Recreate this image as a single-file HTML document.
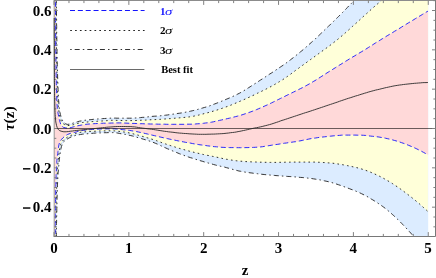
<!DOCTYPE html>
<html><head><meta charset="utf-8">
<style>
html,body{margin:0;padding:0;background:#fff;}
svg{display:block;will-change:transform;}
text{font-family:"Liberation Serif",serif;font-weight:bold;fill:#000;}
</style></head>
<body>
<svg width="436" height="278" viewBox="0 0 436 278">
<rect width="436" height="278" fill="#fff"/>
<defs><clipPath id="c"><rect x="54" y="0" width="381.5" height="236.8"/></clipPath></defs>
<g clip-path="url(#c)">
<polygon points="54.0,-6.0 56.3,-6.0 56.3,-4.2 56.3,-2.4 56.3,-0.6 56.4,1.2 56.4,3.0 56.4,4.8 56.4,6.6 56.4,8.4 56.5,10.2 56.5,12.0 56.5,13.8 56.5,15.6 56.5,17.4 56.6,19.2 56.6,21.0 56.6,22.8 56.6,24.6 56.7,26.4 56.7,28.2 56.7,30.0 56.7,31.8 56.7,33.6 56.8,35.4 56.8,37.2 56.8,39.0 56.9,40.8 56.9,42.6 56.9,44.4 56.9,46.2 57.0,48.0 57.0,49.8 57.0,51.6 57.1,53.4 57.1,55.2 57.1,57.0 57.2,58.8 57.2,60.6 57.3,62.4 57.3,64.2 57.3,66.0 57.4,67.8 57.4,69.6 57.5,71.4 57.5,73.2 57.6,75.0 57.6,76.8 57.7,78.6 57.7,80.4 57.8,82.2 57.9,84.0 57.9,85.8 58.0,87.6 58.1,89.4 58.2,91.2 58.2,93.0 58.3,94.8 58.4,96.6 58.5,98.4 58.6,100.2 58.8,102.0 58.9,103.8 59.1,105.6 59.2,107.4 59.4,109.1 59.7,110.9 60.0,112.7 60.4,114.5 60.9,116.2 61.4,117.9 62.1,119.7 63.0,121.3 64.0,122.6 65.6,123.8 67.2,124.4 69.0,124.2 70.7,123.7 72.5,123.3 74.2,122.8 76.0,122.2 77.7,121.7 79.4,121.2 81.2,120.9 83.0,120.6 84.7,120.3 86.5,120.1 88.3,119.9 90.1,119.7 91.9,119.5 93.7,119.3 95.5,119.2 97.3,119.0 99.1,118.9 100.9,118.8 102.7,118.6 104.5,118.5 106.3,118.4 108.1,118.3 109.9,118.2 111.7,118.1 113.5,118.1 115.3,118.1 117.1,118.2 118.9,118.2 120.7,118.2 122.5,118.2 124.3,118.2 126.1,118.2 127.9,118.2 129.7,118.2 131.5,118.2 133.3,118.1 135.1,118.0 136.9,117.9 138.6,117.8 140.4,117.6 142.2,117.4 144.0,117.3 145.8,117.1 147.6,116.9 149.4,116.7 151.2,116.5 153.0,116.3 154.8,116.2 156.6,116.1 158.4,115.9 160.2,115.8 162.0,115.6 163.7,115.4 165.5,115.2 167.3,115.0 169.1,114.7 170.9,114.5 172.7,114.2 174.4,114.0 176.2,113.7 178.0,113.4 179.8,113.2 181.6,112.9 183.3,112.6 185.1,112.3 186.9,111.9 188.7,111.6 190.4,111.2 192.2,110.8 193.9,110.4 195.7,110.0 197.4,109.5 199.1,109.0 200.9,108.5 202.6,108.0 204.3,107.5 206.1,107.0 207.8,106.4 209.5,105.9 211.2,105.3 212.9,104.6 214.5,104.0 216.2,103.4 217.9,102.7 219.6,102.0 221.2,101.4 222.9,100.7 224.6,100.0 226.2,99.3 227.9,98.6 229.6,97.9 231.2,97.2 232.9,96.4 234.5,95.7 236.1,94.9 237.7,94.1 239.3,93.3 240.9,92.4 242.5,91.6 244.0,90.6 245.5,89.7 247.1,88.7 248.6,87.7 250.1,86.8 251.6,85.8 253.1,84.8 254.7,83.8 256.2,82.9 257.7,81.9 259.2,80.9 260.7,79.9 262.2,79.0 263.7,78.0 265.2,77.0 266.7,76.0 268.2,75.0 269.8,74.0 271.3,73.1 272.8,72.1 274.3,71.1 275.8,70.1 277.3,69.1 278.8,68.1 280.3,67.1 281.8,66.1 283.3,65.1 284.7,64.0 286.2,63.0 287.6,61.9 289.1,60.8 290.5,59.8 291.9,58.7 293.4,57.6 294.8,56.4 296.2,55.3 297.6,54.2 299.0,53.1 300.4,51.9 301.8,50.8 303.2,49.6 304.5,48.5 305.9,47.3 307.2,46.1 308.6,44.9 309.9,43.7 311.3,42.5 312.6,41.3 313.9,40.1 315.3,38.9 316.6,37.6 317.9,36.4 319.2,35.2 320.5,33.9 321.8,32.7 323.1,31.4 324.4,30.2 325.7,28.9 327.0,27.7 328.3,26.5 329.6,25.2 330.9,23.9 332.2,22.7 333.5,21.4 334.8,20.2 336.0,18.9 337.3,17.7 338.6,16.4 339.9,15.1 341.2,13.8 342.4,12.6 343.7,11.3 345.0,10.0 346.2,8.7 347.5,7.4 348.7,6.1 350.0,4.8 351.2,3.6 352.5,2.3 353.7,1.0 355.0,-0.3 356.2,-1.6 357.5,-2.9 358.7,-4.2 360.0,-5.5 428.2,-5.5 428.2,241.5 418.0,241.5 416.8,240.1 415.6,238.6 414.4,237.2 413.2,235.8 411.9,234.4 410.7,233.0 409.4,231.6 408.2,230.2 406.9,228.9 405.6,227.5 404.3,226.1 403.0,224.8 401.7,223.4 400.4,222.1 399.1,220.8 397.8,219.5 396.4,218.2 395.1,216.9 393.7,215.6 392.3,214.4 390.9,213.1 389.5,211.9 388.1,210.7 386.6,209.5 385.2,208.3 383.7,207.2 382.2,206.1 380.6,205.0 379.1,204.0 377.5,202.9 376.0,201.9 374.4,200.9 372.8,199.9 371.2,199.0 369.6,198.0 368.0,197.0 366.3,196.1 364.7,195.3 363.0,194.4 361.4,193.6 359.7,192.8 358.0,192.1 356.2,191.3 354.5,190.6 352.8,189.9 351.0,189.3 349.3,188.6 347.5,188.0 345.7,187.3 344.0,186.7 342.2,186.0 340.5,185.4 338.7,184.8 336.9,184.2 335.1,183.6 333.4,183.1 331.6,182.5 329.8,182.1 328.0,181.6 326.1,181.2 324.3,180.8 322.5,180.4 320.6,180.0 318.8,179.7 317.0,179.4 315.1,179.1 313.3,178.8 311.4,178.5 309.6,178.3 307.7,178.1 305.8,177.9 304.0,177.7 302.1,177.5 300.3,177.4 298.4,177.2 296.5,177.0 294.7,176.9 292.8,176.7 290.9,176.6 289.1,176.5 287.2,176.4 285.3,176.2 283.5,176.1 281.6,176.0 279.7,175.9 277.9,175.7 276.0,175.6 274.2,175.4 272.3,175.3 270.4,175.1 268.6,174.9 266.7,174.8 264.9,174.6 263.0,174.4 261.1,174.2 259.3,174.0 257.4,173.7 255.6,173.5 253.7,173.3 251.9,173.0 250.0,172.8 248.1,172.5 246.3,172.3 244.4,172.0 242.6,171.7 240.8,171.3 238.9,171.0 237.1,170.5 235.3,170.1 233.5,169.6 231.7,169.1 229.9,168.6 228.1,168.1 226.3,167.6 224.5,167.1 222.7,166.7 220.8,166.3 219.0,165.9 217.2,165.5 215.4,165.0 213.6,164.5 211.8,164.0 210.0,163.5 208.2,163.0 206.4,162.5 204.6,162.0 202.8,161.4 201.0,160.9 199.2,160.4 197.4,159.8 195.6,159.3 193.8,158.7 192.1,158.1 190.3,157.6 188.5,157.0 186.7,156.4 185.0,155.8 183.2,155.1 181.5,154.5 179.7,153.8 178.0,153.1 176.3,152.4 174.5,151.7 172.8,151.0 171.1,150.2 169.4,149.5 167.6,148.8 165.9,148.0 164.2,147.3 162.5,146.5 160.8,145.7 159.1,144.9 157.4,144.1 155.7,143.4 154.0,142.7 152.2,142.0 150.5,141.4 148.7,140.8 146.9,140.2 145.1,139.7 143.3,139.2 141.5,138.6 139.8,138.1 138.0,137.6 136.2,137.1 134.4,136.5 132.6,136.0 130.8,135.6 128.9,135.2 127.1,134.8 125.3,134.4 123.4,134.1 121.6,133.8 119.7,133.5 117.9,133.1 116.0,132.8 114.2,132.6 112.3,132.6 110.5,132.6 108.6,132.6 106.7,132.7 104.9,132.7 103.0,132.8 101.1,132.9 99.2,132.9 97.4,133.0 95.5,133.1 93.6,133.2 91.8,133.4 89.9,133.5 88.0,133.7 86.2,133.8 84.3,134.0 82.5,134.2 80.6,134.5 78.7,134.8 76.9,135.2 75.1,135.6 73.3,136.1 71.6,136.8 69.8,137.6 68.2,138.5 66.6,139.5 65.0,140.6 63.6,141.9 62.6,143.3 62.0,144.9 61.4,146.7 61.0,148.6 60.7,150.5 60.3,152.4 60.0,154.3 59.8,156.1 59.5,158.0 59.3,159.8 59.1,161.7 58.9,163.6 58.8,165.4 58.6,167.3 58.4,169.1 58.3,171.0 58.1,172.9 58.0,174.7 57.9,176.6 57.8,178.5 57.7,180.3 57.6,182.2 57.5,184.1 57.5,185.9 57.4,187.8 57.3,189.7 57.3,191.5 57.2,193.4 57.2,195.3 57.1,197.1 57.0,199.0 57.0,200.9 57.0,202.8 56.9,204.6 56.9,206.5 56.8,208.4 56.8,210.2 56.8,212.1 56.7,214.0 56.7,215.8 56.6,217.7 56.6,219.6 56.6,221.4 56.5,223.3 56.5,225.2 56.5,227.0 56.5,228.9 56.4,230.8 56.4,232.7 56.4,234.5 56.4,236.4 56.3,238.3 56.3,240.1 56.3,242.0 54.0,242.0" fill="#dcecff"/>
<polygon points="54.0,-6.0 55.9,-6.0 55.9,-4.1 55.9,-2.2 55.9,-0.3 55.9,1.6 56.0,3.5 56.0,5.5 56.0,7.4 56.0,9.3 56.0,11.2 56.0,13.1 56.1,15.0 56.1,16.9 56.1,18.8 56.1,20.7 56.1,22.6 56.1,24.5 56.2,26.4 56.2,28.4 56.2,30.3 56.2,32.2 56.2,34.1 56.3,36.0 56.3,37.9 56.3,39.8 56.3,41.7 56.4,43.6 56.4,45.5 56.4,47.4 56.4,49.3 56.5,51.3 56.5,53.2 56.5,55.1 56.5,57.0 56.6,58.9 56.6,60.8 56.6,62.7 56.7,64.6 56.7,66.5 56.8,68.4 56.8,70.3 56.9,72.2 56.9,74.2 57.0,76.1 57.0,78.0 57.1,79.9 57.1,81.8 57.2,83.7 57.2,85.6 57.3,87.5 57.4,89.4 57.5,91.3 57.5,93.2 57.6,95.1 57.7,97.1 57.8,99.0 57.9,100.9 58.1,102.8 58.2,104.7 58.4,106.6 58.5,108.5 58.8,110.4 59.0,112.3 59.3,114.2 59.7,116.1 60.2,117.9 60.7,119.8 61.6,121.6 62.6,123.1 64.0,124.3 65.8,125.2 67.7,125.6 69.5,125.4 71.5,125.1 73.3,124.7 75.2,124.2 77.0,123.6 78.9,123.1 80.7,122.8 82.6,122.5 84.5,122.3 86.4,122.1 88.3,121.9 90.2,121.8 92.1,121.6 94.0,121.5 95.9,121.4 97.8,121.2 99.7,121.1 101.6,121.0 103.5,120.9 105.5,120.8 107.4,120.6 109.3,120.5 111.2,120.3 113.1,120.3 115.0,120.3 116.9,120.4 118.8,120.5 120.7,120.5 122.6,120.5 124.5,120.6 126.4,120.6 128.3,120.6 130.2,120.6 132.2,120.6 134.1,120.5 136.0,120.5 137.9,120.4 139.8,120.3 141.7,120.2 143.6,120.2 145.5,120.1 147.4,120.0 149.3,119.9 151.2,119.7 153.1,119.6 155.0,119.6 156.9,119.5 158.8,119.4 160.8,119.3 162.7,119.1 164.6,119.0 166.5,118.9 168.4,118.7 170.3,118.6 172.2,118.4 174.1,118.3 176.0,118.1 177.9,118.0 179.8,117.8 181.7,117.7 183.6,117.5 185.5,117.3 187.4,117.1 189.3,116.9 191.2,116.6 193.0,116.3 194.9,115.9 196.8,115.5 198.6,115.1 200.5,114.6 202.4,114.1 204.2,113.6 206.0,113.1 207.9,112.7 209.7,112.2 211.6,111.6 213.4,111.1 215.2,110.6 217.1,110.0 218.9,109.4 220.7,108.8 222.5,108.2 224.3,107.6 226.1,106.9 227.9,106.3 229.7,105.6 231.4,104.9 233.2,104.1 235.0,103.4 236.7,102.7 238.5,101.9 240.2,101.2 242.0,100.4 243.7,99.7 245.5,98.9 247.2,98.1 249.0,97.3 250.7,96.5 252.4,95.7 254.2,94.9 255.9,94.1 257.6,93.2 259.3,92.4 261.0,91.6 262.7,90.7 264.5,89.9 266.2,89.0 267.9,88.1 269.6,87.3 271.2,86.4 272.9,85.5 274.6,84.5 276.2,83.6 277.9,82.6 279.5,81.6 281.2,80.6 282.8,79.6 284.4,78.6 285.9,77.5 287.5,76.4 289.0,75.3 290.6,74.2 292.1,73.0 293.7,71.9 295.2,70.7 296.7,69.6 298.3,68.5 299.8,67.3 301.3,66.2 302.9,65.1 304.4,64.0 306.0,62.9 307.5,61.7 309.1,60.6 310.6,59.5 312.2,58.4 313.7,57.3 315.3,56.1 316.8,55.0 318.3,53.9 319.9,52.8 321.4,51.7 323.0,50.5 324.5,49.4 326.1,48.3 327.6,47.2 329.1,46.0 330.7,44.9 332.2,43.7 333.7,42.5 335.2,41.4 336.7,40.2 338.2,39.0 339.6,37.7 341.1,36.5 342.6,35.3 344.0,34.1 345.4,32.8 346.9,31.5 348.3,30.3 349.7,29.0 351.1,27.7 352.5,26.4 353.9,25.1 355.4,23.8 356.8,22.6 358.2,21.3 359.6,20.0 361.0,18.7 362.4,17.4 363.8,16.1 365.2,14.9 366.6,13.6 368.1,12.3 369.5,11.0 370.9,9.7 372.3,8.4 373.7,7.2 375.2,5.9 376.6,4.7 378.1,3.4 379.5,2.2 381.0,1.0 382.4,-0.3 383.8,-1.6 385.2,-2.9 386.6,-4.2 388.0,-5.5 428.2,-5.5 427.9,211.5 426.5,210.2 425.1,208.9 423.7,207.7 422.3,206.4 420.9,205.2 419.5,203.9 418.1,202.7 416.6,201.5 415.2,200.3 413.7,199.1 412.3,198.0 410.8,196.8 409.3,195.6 407.8,194.5 406.3,193.3 404.8,192.2 403.3,191.1 401.8,190.0 400.3,188.9 398.7,187.8 397.2,186.7 395.6,185.7 394.0,184.7 392.5,183.6 390.9,182.6 389.3,181.6 387.6,180.7 386.0,179.7 384.4,178.8 382.7,177.9 381.1,177.0 379.4,176.2 377.7,175.4 376.0,174.6 374.3,173.8 372.5,173.0 370.8,172.3 369.1,171.6 367.3,170.9 365.5,170.3 363.7,169.7 362.0,169.1 360.2,168.6 358.4,168.1 356.5,167.6 354.7,167.2 352.9,166.8 351.0,166.3 349.2,166.0 347.3,165.6 345.5,165.3 343.6,164.9 341.8,164.6 339.9,164.3 338.1,164.0 336.2,163.7 334.3,163.4 332.5,163.2 330.6,163.0 328.7,162.9 326.9,162.7 325.0,162.6 323.1,162.5 321.2,162.4 319.4,162.3 317.5,162.2 315.6,162.1 313.7,162.1 311.8,162.1 310.0,162.1 308.1,162.1 306.2,162.1 304.3,162.1 302.4,162.1 300.6,162.1 298.7,162.1 296.8,162.1 294.9,162.1 293.0,162.1 291.2,162.1 289.3,162.2 287.4,162.2 285.5,162.2 283.6,162.3 281.8,162.3 279.9,162.3 278.0,162.4 276.1,162.4 274.2,162.4 272.4,162.4 270.5,162.4 268.6,162.4 266.7,162.3 264.8,162.3 263.0,162.3 261.1,162.2 259.2,162.2 257.3,162.1 255.4,162.0 253.6,162.0 251.7,161.9 249.8,161.8 247.9,161.7 246.0,161.6 244.2,161.5 242.3,161.3 240.4,161.2 238.6,161.0 236.7,160.8 234.8,160.6 233.0,160.3 231.1,160.0 229.2,159.7 227.4,159.4 225.5,159.1 223.7,158.7 221.8,158.3 220.0,157.9 218.2,157.5 216.3,157.1 214.5,156.7 212.7,156.4 210.8,156.0 209.0,155.6 207.1,155.3 205.3,154.9 203.4,154.5 201.6,154.1 199.8,153.7 197.9,153.2 196.1,152.8 194.3,152.4 192.5,151.9 190.6,151.5 188.8,151.0 187.0,150.5 185.2,150.0 183.4,149.5 181.6,149.0 179.8,148.5 177.9,147.9 176.1,147.4 174.4,146.8 172.6,146.3 170.8,145.7 169.0,145.1 167.2,144.5 165.4,143.9 163.6,143.3 161.9,142.7 160.1,142.0 158.3,141.4 156.6,140.7 154.8,140.1 153.0,139.5 151.2,139.0 149.4,138.4 147.6,137.9 145.8,137.3 144.0,136.8 142.2,136.3 140.4,135.8 138.6,135.3 136.8,134.8 134.9,134.3 133.1,133.8 131.3,133.4 129.5,133.0 127.6,132.6 125.8,132.3 123.9,132.0 122.0,131.8 120.2,131.5 118.3,131.3 116.4,131.0 114.6,130.9 112.7,130.8 110.8,130.8 108.9,130.8 107.1,130.9 105.2,130.9 103.3,130.9 101.4,131.0 99.5,131.0 97.7,131.1 95.8,131.2 93.9,131.3 92.0,131.4 90.1,131.5 88.3,131.6 86.4,131.7 84.5,131.9 82.6,132.1 80.8,132.3 78.9,132.6 77.1,133.1 75.3,133.7 73.5,134.4 71.8,135.1 70.1,135.8 68.3,136.6 66.7,137.6 65.1,138.6 63.7,139.8 62.3,141.2 61.2,142.8 60.6,144.4 60.2,146.2 59.8,148.0 59.5,150.0 59.2,151.9 58.9,153.7 58.7,155.6 58.5,157.5 58.3,159.3 58.1,161.2 57.9,163.1 57.8,164.9 57.6,166.8 57.5,168.7 57.4,170.6 57.3,172.5 57.2,174.3 57.1,176.2 57.0,178.1 56.9,180.0 56.8,181.8 56.8,183.7 56.7,185.6 56.6,187.5 56.6,189.4 56.5,191.2 56.5,193.1 56.4,195.0 56.4,196.9 56.3,198.8 56.3,200.6 56.2,202.5 56.2,204.4 56.2,206.3 56.1,208.2 56.1,210.0 56.1,211.9 56.0,213.8 56.0,215.7 56.0,217.6 55.9,219.4 55.9,221.3 55.9,223.2 55.9,225.1 55.8,227.0 55.8,228.8 55.8,230.7 55.8,232.6 55.8,234.5 55.7,236.4 55.7,238.2 55.7,240.1 55.7,242.0 54.0,242.0" fill="#ffffd9"/>
<polygon points="54.0,-6.0 55.4,-6.0 55.4,-4.0 55.4,-1.9 55.4,0.1 55.4,2.2 55.4,4.2 55.5,6.2 55.5,8.3 55.5,10.3 55.5,12.4 55.5,14.4 55.5,16.4 55.5,18.5 55.5,20.5 55.5,22.5 55.6,24.6 55.6,26.6 55.6,28.7 55.6,30.7 55.6,32.7 55.6,34.8 55.7,36.8 55.7,38.9 55.7,40.9 55.7,42.9 55.7,45.0 55.7,47.0 55.8,49.1 55.8,51.1 55.8,53.1 55.8,55.2 55.9,57.2 55.9,59.2 55.9,61.3 55.9,63.3 56.0,65.4 56.0,67.4 56.0,69.4 56.1,71.5 56.1,73.5 56.2,75.6 56.2,77.6 56.2,79.6 56.3,81.7 56.3,83.7 56.4,85.8 56.4,87.8 56.5,89.8 56.6,91.9 56.6,93.9 56.7,95.9 56.8,98.0 56.8,100.0 56.9,102.1 57.0,104.1 57.2,106.1 57.3,108.2 57.5,110.2 57.9,112.2 58.2,114.2 58.7,116.2 59.1,118.2 59.5,120.3 60.1,122.3 60.7,124.2 61.7,125.9 63.3,127.3 65.2,127.8 67.2,128.1 69.3,128.0 71.3,127.5 73.2,126.9 75.2,126.4 77.2,125.9 79.2,125.5 81.2,125.1 83.2,124.7 85.2,124.4 87.2,124.2 89.3,124.0 91.3,123.8 93.3,123.7 95.4,123.6 97.4,123.5 99.4,123.4 101.5,123.3 103.5,123.2 105.6,123.2 107.6,123.1 109.6,123.1 111.7,123.0 113.7,123.0 115.7,122.9 117.8,122.9 119.8,122.9 121.9,122.9 123.9,123.0 125.9,123.1 128.0,123.2 130.0,123.3 132.0,123.4 134.1,123.4 136.1,123.5 138.2,123.6 140.2,123.7 142.2,123.7 144.3,123.8 146.3,123.8 148.4,123.9 150.4,124.0 152.4,124.0 154.5,124.1 156.5,124.1 158.5,124.2 160.6,124.2 162.6,124.2 164.7,124.2 166.7,124.3 168.7,124.3 170.8,124.3 172.8,124.3 174.9,124.3 176.9,124.3 178.9,124.3 181.0,124.3 183.0,124.3 185.1,124.3 187.1,124.2 189.1,124.2 191.2,124.2 193.2,124.1 195.2,124.0 197.3,123.8 199.3,123.7 201.3,123.5 203.4,123.3 205.4,123.0 207.4,122.8 209.4,122.5 211.4,122.2 213.4,121.8 215.4,121.3 217.4,120.9 219.4,120.4 221.4,120.0 223.4,119.5 225.4,119.1 227.4,118.6 229.4,118.2 231.4,117.7 233.3,117.2 235.3,116.7 237.3,116.2 239.2,115.6 241.2,115.1 243.1,114.5 245.1,113.8 247.0,113.2 248.9,112.5 250.9,111.8 252.8,111.1 254.7,110.3 256.6,109.6 258.4,108.8 260.3,108.0 262.2,107.2 264.1,106.3 265.9,105.5 267.8,104.7 269.6,103.8 271.5,102.9 273.3,102.0 275.1,101.1 276.9,100.2 278.8,99.3 280.6,98.4 282.4,97.5 284.3,96.6 286.1,95.7 287.9,94.8 289.8,93.9 291.6,93.0 293.4,92.1 295.3,91.2 297.1,90.3 298.9,89.4 300.7,88.5 302.5,87.6 304.3,86.6 306.1,85.7 307.9,84.7 309.7,83.7 311.5,82.7 313.2,81.6 315.0,80.6 316.7,79.5 318.4,78.4 320.2,77.3 321.9,76.2 323.6,75.1 325.3,74.0 327.0,72.9 328.8,71.8 330.5,70.7 332.2,69.7 333.9,68.6 335.7,67.5 337.4,66.4 339.1,65.3 340.9,64.3 342.6,63.2 344.3,62.1 346.1,61.0 347.8,60.0 349.5,58.9 351.3,57.8 353.0,56.8 354.8,55.8 356.5,54.7 358.3,53.7 360.0,52.6 361.8,51.6 363.5,50.5 365.3,49.5 367.0,48.4 368.7,47.3 370.5,46.2 372.2,45.1 373.9,44.0 375.6,42.9 377.3,41.8 379.1,40.8 380.8,39.7 382.5,38.6 384.3,37.6 386.0,36.5 387.8,35.4 389.5,34.4 391.2,33.3 393.0,32.3 394.7,31.2 396.5,30.2 398.2,29.1 400.0,28.1 401.7,27.0 403.4,25.9 405.2,24.9 406.9,23.8 408.7,22.7 410.4,21.7 412.2,20.6 413.9,19.6 415.6,18.5 417.4,17.5 419.1,16.4 420.9,15.4 422.6,14.3 424.4,13.3 426.1,12.2 427.9,11.2 428.2,155.0 426.6,154.1 425.0,153.2 423.4,152.3 421.7,151.4 420.1,150.5 418.4,149.7 416.8,148.9 415.1,148.1 413.4,147.4 411.7,146.6 410.0,145.9 408.3,145.2 406.6,144.5 404.9,143.8 403.1,143.2 401.4,142.6 399.6,142.0 397.9,141.4 396.1,140.9 394.3,140.4 392.6,139.9 390.8,139.5 389.0,139.0 387.2,138.6 385.4,138.2 383.5,137.8 381.7,137.5 379.9,137.2 378.1,136.9 376.3,136.7 374.4,136.5 372.6,136.3 370.7,136.1 368.9,135.9 367.1,135.7 365.2,135.4 363.4,135.3 361.5,135.2 359.7,135.2 357.9,135.2 356.0,135.1 354.2,135.1 352.3,135.1 350.5,135.1 348.6,135.1 346.8,135.1 344.9,135.1 343.1,135.1 341.2,135.2 339.4,135.4 337.5,135.5 335.7,135.7 333.9,135.8 332.0,136.0 330.2,136.2 328.3,136.4 326.5,136.6 324.7,136.8 322.8,137.0 321.0,137.2 319.2,137.4 317.3,137.7 315.5,138.0 313.7,138.2 311.8,138.5 310.0,138.8 308.2,139.2 306.4,139.6 304.6,139.9 302.8,140.3 301.0,140.7 299.2,141.0 297.3,141.4 295.5,141.7 293.7,141.9 291.9,142.2 290.0,142.4 288.2,142.7 286.4,143.0 284.5,143.2 282.7,143.5 280.9,143.8 279.1,144.1 277.2,144.4 275.4,144.6 273.6,144.9 271.8,145.2 269.9,145.5 268.1,145.8 266.3,146.1 264.4,146.4 262.6,146.7 260.8,146.9 258.9,147.1 257.1,147.2 255.3,147.3 253.4,147.4 251.6,147.5 249.7,147.5 247.9,147.6 246.0,147.6 244.2,147.7 242.3,147.7 240.5,147.7 238.6,147.7 236.8,147.7 234.9,147.7 233.1,147.6 231.2,147.6 229.4,147.6 227.6,147.5 225.7,147.5 223.9,147.4 222.0,147.3 220.2,147.2 218.3,147.0 216.5,146.8 214.7,146.7 212.8,146.5 211.0,146.2 209.1,146.0 207.3,145.8 205.5,145.5 203.7,145.3 201.8,145.0 200.0,144.8 198.2,144.5 196.3,144.2 194.5,143.9 192.7,143.6 190.9,143.2 189.1,142.9 187.2,142.6 185.4,142.3 183.6,141.9 181.8,141.6 180.0,141.2 178.2,140.9 176.4,140.5 174.5,140.1 172.7,139.8 170.9,139.4 169.1,139.0 167.3,138.6 165.5,138.2 163.7,137.8 161.9,137.4 160.1,137.0 158.3,136.6 156.5,136.2 154.7,135.7 152.9,135.3 151.1,134.9 149.3,134.5 147.5,134.0 145.7,133.6 143.9,133.2 142.1,132.7 140.3,132.4 138.5,132.0 136.7,131.6 134.9,131.3 133.0,131.0 131.2,130.7 129.4,130.4 127.6,130.2 125.7,130.0 123.9,129.8 122.1,129.6 120.2,129.4 118.4,129.2 116.5,129.1 114.7,128.9 112.8,128.9 111.0,128.9 109.1,128.9 107.3,128.9 105.4,128.9 103.6,129.0 101.8,129.0 99.9,129.0 98.1,129.1 96.2,129.2 94.4,129.3 92.5,129.5 90.7,129.6 88.8,129.8 87.0,130.0 85.1,130.1 83.3,130.3 81.5,130.6 79.7,130.9 77.9,131.4 76.2,132.0 74.4,132.5 72.5,132.9 70.7,133.3 69.0,133.9 67.3,134.6 65.7,135.6 64.2,136.7 62.8,138.0 61.6,139.3 60.5,140.8 59.6,142.5 59.1,144.2 58.7,146.0 58.5,147.8 58.3,149.7 58.0,151.6 57.8,153.4 57.5,155.2 57.3,157.1 57.1,158.9 56.9,160.7 56.8,162.6 56.7,164.4 56.6,166.3 56.5,168.1 56.4,170.0 56.3,171.8 56.2,173.6 56.1,175.5 56.1,177.3 56.0,179.2 56.0,181.0 55.9,182.9 55.9,184.7 55.8,186.6 55.8,188.4 55.7,190.3 55.7,192.1 55.7,194.0 55.6,195.8 55.6,197.7 55.6,199.5 55.5,201.4 55.5,203.2 55.5,205.0 55.4,206.9 55.4,208.7 55.4,210.6 55.4,212.4 55.3,214.3 55.3,216.1 55.3,218.0 55.3,219.8 55.3,221.7 55.2,223.5 55.2,225.4 55.2,227.2 55.2,229.1 55.2,230.9 55.2,232.8 55.1,234.6 55.1,236.5 55.1,238.3 55.1,240.2 55.1,242.0 54.0,242.0" fill="#ffd9d9"/>
<g fill="none" stroke-width="0.9">
<polyline points="56.3,-6.0 56.3,-4.2 56.3,-2.4 56.3,-0.6 56.4,1.2 56.4,3.0 56.4,4.8 56.4,6.6 56.4,8.4 56.5,10.2 56.5,12.0 56.5,13.8 56.5,15.6 56.5,17.4 56.6,19.2 56.6,21.0 56.6,22.8 56.6,24.6 56.7,26.4 56.7,28.2 56.7,30.0 56.7,31.8 56.7,33.6 56.8,35.4 56.8,37.2 56.8,39.0 56.9,40.8 56.9,42.6 56.9,44.4 56.9,46.2 57.0,48.0 57.0,49.8 57.0,51.6 57.1,53.4 57.1,55.2 57.1,57.0 57.2,58.8 57.2,60.6 57.3,62.4 57.3,64.2 57.3,66.0 57.4,67.8 57.4,69.6 57.5,71.4 57.5,73.2 57.6,75.0 57.6,76.8 57.7,78.6 57.7,80.4 57.8,82.2 57.9,84.0 57.9,85.8 58.0,87.6 58.1,89.4 58.2,91.2 58.2,93.0 58.3,94.8 58.4,96.6 58.5,98.4 58.6,100.2 58.8,102.0 58.9,103.8 59.1,105.6 59.2,107.4 59.4,109.1 59.7,110.9 60.0,112.7 60.4,114.5 60.9,116.2 61.4,117.9 62.1,119.7 63.0,121.3 64.0,122.6 65.6,123.8 67.2,124.4 69.0,124.2 70.7,123.7 72.5,123.3 74.2,122.8 76.0,122.2 77.7,121.7 79.4,121.2 81.2,120.9 83.0,120.6 84.7,120.3 86.5,120.1 88.3,119.9 90.1,119.7 91.9,119.5 93.7,119.3 95.5,119.2 97.3,119.0 99.1,118.9 100.9,118.8 102.7,118.6 104.5,118.5 106.3,118.4 108.1,118.3 109.9,118.2 111.7,118.1 113.5,118.1 115.3,118.1 117.1,118.2 118.9,118.2 120.7,118.2 122.5,118.2 124.3,118.2 126.1,118.2 127.9,118.2 129.7,118.2 131.5,118.2 133.3,118.1 135.1,118.0 136.9,117.9 138.6,117.8 140.4,117.6 142.2,117.4 144.0,117.3 145.8,117.1 147.6,116.9 149.4,116.7 151.2,116.5 153.0,116.3 154.8,116.2 156.6,116.1 158.4,115.9 160.2,115.8 162.0,115.6 163.7,115.4 165.5,115.2 167.3,115.0 169.1,114.7 170.9,114.5 172.7,114.2 174.4,114.0 176.2,113.7 178.0,113.4 179.8,113.2 181.6,112.9 183.3,112.6 185.1,112.3 186.9,111.9 188.7,111.6 190.4,111.2 192.2,110.8 193.9,110.4 195.7,110.0 197.4,109.5 199.1,109.0 200.9,108.5 202.6,108.0 204.3,107.5 206.1,107.0 207.8,106.4 209.5,105.9 211.2,105.3 212.9,104.6 214.5,104.0 216.2,103.4 217.9,102.7 219.6,102.0 221.2,101.4 222.9,100.7 224.6,100.0 226.2,99.3 227.9,98.6 229.6,97.9 231.2,97.2 232.9,96.4 234.5,95.7 236.1,94.9 237.7,94.1 239.3,93.3 240.9,92.4 242.5,91.6 244.0,90.6 245.5,89.7 247.1,88.7 248.6,87.7 250.1,86.8 251.6,85.8 253.1,84.8 254.7,83.8 256.2,82.9 257.7,81.9 259.2,80.9 260.7,79.9 262.2,79.0 263.7,78.0 265.2,77.0 266.7,76.0 268.2,75.0 269.8,74.0 271.3,73.1 272.8,72.1 274.3,71.1 275.8,70.1 277.3,69.1 278.8,68.1 280.3,67.1 281.8,66.1 283.3,65.1 284.7,64.0 286.2,63.0 287.6,61.9 289.1,60.8 290.5,59.8 291.9,58.7 293.4,57.6 294.8,56.4 296.2,55.3 297.6,54.2 299.0,53.1 300.4,51.9 301.8,50.8 303.2,49.6 304.5,48.5 305.9,47.3 307.2,46.1 308.6,44.9 309.9,43.7 311.3,42.5 312.6,41.3 313.9,40.1 315.3,38.9 316.6,37.6 317.9,36.4 319.2,35.2 320.5,33.9 321.8,32.7 323.1,31.4 324.4,30.2 325.7,28.9 327.0,27.7 328.3,26.5 329.6,25.2 330.9,23.9 332.2,22.7 333.5,21.4 334.8,20.2 336.0,18.9 337.3,17.7 338.6,16.4 339.9,15.1 341.2,13.8 342.4,12.6 343.7,11.3 345.0,10.0 346.2,8.7 347.5,7.4 348.7,6.1 350.0,4.8 351.2,3.6 352.5,2.3 353.7,1.0 355.0,-0.3 356.2,-1.6 357.5,-2.9 358.7,-4.2 360.0,-5.5" stroke="#222" stroke-dasharray="1.5 3 5 3.1"/>
<polyline points="56.3,242.0 56.3,240.1 56.3,238.3 56.4,236.4 56.4,234.5 56.4,232.7 56.4,230.8 56.5,228.9 56.5,227.0 56.5,225.2 56.5,223.3 56.6,221.4 56.6,219.6 56.6,217.7 56.7,215.8 56.7,214.0 56.8,212.1 56.8,210.2 56.8,208.4 56.9,206.5 56.9,204.6 57.0,202.8 57.0,200.9 57.0,199.0 57.1,197.1 57.2,195.3 57.2,193.4 57.3,191.5 57.3,189.7 57.4,187.8 57.5,185.9 57.5,184.1 57.6,182.2 57.7,180.3 57.8,178.5 57.9,176.6 58.0,174.7 58.1,172.9 58.3,171.0 58.4,169.1 58.6,167.3 58.8,165.4 58.9,163.6 59.1,161.7 59.3,159.8 59.5,158.0 59.8,156.1 60.0,154.3 60.3,152.4 60.7,150.5 61.0,148.6 61.4,146.7 62.0,144.9 62.6,143.3 63.6,141.9 65.0,140.6 66.6,139.5 68.2,138.5 69.8,137.6 71.6,136.8 73.3,136.1 75.1,135.6 76.9,135.2 78.7,134.8 80.6,134.5 82.5,134.2 84.3,134.0 86.2,133.8 88.0,133.7 89.9,133.5 91.8,133.4 93.6,133.2 95.5,133.1 97.4,133.0 99.2,132.9 101.1,132.9 103.0,132.8 104.9,132.7 106.7,132.7 108.6,132.6 110.5,132.6 112.3,132.6 114.2,132.6 116.0,132.8 117.9,133.1 119.7,133.5 121.6,133.8 123.4,134.1 125.3,134.4 127.1,134.8 128.9,135.2 130.8,135.6 132.6,136.0 134.4,136.5 136.2,137.1 138.0,137.6 139.8,138.1 141.5,138.6 143.3,139.2 145.1,139.7 146.9,140.2 148.7,140.8 150.5,141.4 152.2,142.0 154.0,142.7 155.7,143.4 157.4,144.1 159.1,144.9 160.8,145.7 162.5,146.5 164.2,147.3 165.9,148.0 167.6,148.8 169.4,149.5 171.1,150.2 172.8,151.0 174.5,151.7 176.3,152.4 178.0,153.1 179.7,153.8 181.5,154.5 183.2,155.1 185.0,155.8 186.7,156.4 188.5,157.0 190.3,157.6 192.1,158.1 193.8,158.7 195.6,159.3 197.4,159.8 199.2,160.4 201.0,160.9 202.8,161.4 204.6,162.0 206.4,162.5 208.2,163.0 210.0,163.5 211.8,164.0 213.6,164.5 215.4,165.0 217.2,165.5 219.0,165.9 220.8,166.3 222.7,166.7 224.5,167.1 226.3,167.6 228.1,168.1 229.9,168.6 231.7,169.1 233.5,169.6 235.3,170.1 237.1,170.5 238.9,171.0 240.8,171.3 242.6,171.7 244.4,172.0 246.3,172.3 248.1,172.5 250.0,172.8 251.9,173.0 253.7,173.3 255.6,173.5 257.4,173.7 259.3,174.0 261.1,174.2 263.0,174.4 264.9,174.6 266.7,174.8 268.6,174.9 270.4,175.1 272.3,175.3 274.2,175.4 276.0,175.6 277.9,175.7 279.7,175.9 281.6,176.0 283.5,176.1 285.3,176.2 287.2,176.4 289.1,176.5 290.9,176.6 292.8,176.7 294.7,176.9 296.5,177.0 298.4,177.2 300.3,177.4 302.1,177.5 304.0,177.7 305.8,177.9 307.7,178.1 309.6,178.3 311.4,178.5 313.3,178.8 315.1,179.1 317.0,179.4 318.8,179.7 320.6,180.0 322.5,180.4 324.3,180.8 326.1,181.2 328.0,181.6 329.8,182.1 331.6,182.5 333.4,183.1 335.1,183.6 336.9,184.2 338.7,184.8 340.5,185.4 342.2,186.0 344.0,186.7 345.7,187.3 347.5,188.0 349.3,188.6 351.0,189.3 352.8,189.9 354.5,190.6 356.2,191.3 358.0,192.1 359.7,192.8 361.4,193.6 363.0,194.4 364.7,195.3 366.3,196.1 368.0,197.0 369.6,198.0 371.2,199.0 372.8,199.9 374.4,200.9 376.0,201.9 377.5,202.9 379.1,204.0 380.6,205.0 382.2,206.1 383.7,207.2 385.2,208.3 386.6,209.5 388.1,210.7 389.5,211.9 390.9,213.1 392.3,214.4 393.7,215.6 395.1,216.9 396.4,218.2 397.8,219.5 399.1,220.8 400.4,222.1 401.7,223.4 403.0,224.8 404.3,226.1 405.6,227.5 406.9,228.9 408.2,230.2 409.4,231.6 410.7,233.0 411.9,234.4 413.2,235.8 414.4,237.2 415.6,238.6 416.8,240.1 418.0,241.5" stroke="#222" stroke-dasharray="1.5 3 5 3.1"/>
<polyline points="55.9,-6.0 55.9,-4.1 55.9,-2.2 55.9,-0.3 55.9,1.6 56.0,3.5 56.0,5.5 56.0,7.4 56.0,9.3 56.0,11.2 56.0,13.1 56.1,15.0 56.1,16.9 56.1,18.8 56.1,20.7 56.1,22.6 56.1,24.5 56.2,26.4 56.2,28.4 56.2,30.3 56.2,32.2 56.2,34.1 56.3,36.0 56.3,37.9 56.3,39.8 56.3,41.7 56.4,43.6 56.4,45.5 56.4,47.4 56.4,49.3 56.5,51.3 56.5,53.2 56.5,55.1 56.5,57.0 56.6,58.9 56.6,60.8 56.6,62.7 56.7,64.6 56.7,66.5 56.8,68.4 56.8,70.3 56.9,72.2 56.9,74.2 57.0,76.1 57.0,78.0 57.1,79.9 57.1,81.8 57.2,83.7 57.2,85.6 57.3,87.5 57.4,89.4 57.5,91.3 57.5,93.2 57.6,95.1 57.7,97.1 57.8,99.0 57.9,100.9 58.1,102.8 58.2,104.7 58.4,106.6 58.5,108.5 58.8,110.4 59.0,112.3 59.3,114.2 59.7,116.1 60.2,117.9 60.7,119.8 61.6,121.6 62.6,123.1 64.0,124.3 65.8,125.2 67.7,125.6 69.5,125.4 71.5,125.1 73.3,124.7 75.2,124.2 77.0,123.6 78.9,123.1 80.7,122.8 82.6,122.5 84.5,122.3 86.4,122.1 88.3,121.9 90.2,121.8 92.1,121.6 94.0,121.5 95.9,121.4 97.8,121.2 99.7,121.1 101.6,121.0 103.5,120.9 105.5,120.8 107.4,120.6 109.3,120.5 111.2,120.3 113.1,120.3 115.0,120.3 116.9,120.4 118.8,120.5 120.7,120.5 122.6,120.5 124.5,120.6 126.4,120.6 128.3,120.6 130.2,120.6 132.2,120.6 134.1,120.5 136.0,120.5 137.9,120.4 139.8,120.3 141.7,120.2 143.6,120.2 145.5,120.1 147.4,120.0 149.3,119.9 151.2,119.7 153.1,119.6 155.0,119.6 156.9,119.5 158.8,119.4 160.8,119.3 162.7,119.1 164.6,119.0 166.5,118.9 168.4,118.7 170.3,118.6 172.2,118.4 174.1,118.3 176.0,118.1 177.9,118.0 179.8,117.8 181.7,117.7 183.6,117.5 185.5,117.3 187.4,117.1 189.3,116.9 191.2,116.6 193.0,116.3 194.9,115.9 196.8,115.5 198.6,115.1 200.5,114.6 202.4,114.1 204.2,113.6 206.0,113.1 207.9,112.7 209.7,112.2 211.6,111.6 213.4,111.1 215.2,110.6 217.1,110.0 218.9,109.4 220.7,108.8 222.5,108.2 224.3,107.6 226.1,106.9 227.9,106.3 229.7,105.6 231.4,104.9 233.2,104.1 235.0,103.4 236.7,102.7 238.5,101.9 240.2,101.2 242.0,100.4 243.7,99.7 245.5,98.9 247.2,98.1 249.0,97.3 250.7,96.5 252.4,95.7 254.2,94.9 255.9,94.1 257.6,93.2 259.3,92.4 261.0,91.6 262.7,90.7 264.5,89.9 266.2,89.0 267.9,88.1 269.6,87.3 271.2,86.4 272.9,85.5 274.6,84.5 276.2,83.6 277.9,82.6 279.5,81.6 281.2,80.6 282.8,79.6 284.4,78.6 285.9,77.5 287.5,76.4 289.0,75.3 290.6,74.2 292.1,73.0 293.7,71.9 295.2,70.7 296.7,69.6 298.3,68.5 299.8,67.3 301.3,66.2 302.9,65.1 304.4,64.0 306.0,62.9 307.5,61.7 309.1,60.6 310.6,59.5 312.2,58.4 313.7,57.3 315.3,56.1 316.8,55.0 318.3,53.9 319.9,52.8 321.4,51.7 323.0,50.5 324.5,49.4 326.1,48.3 327.6,47.2 329.1,46.0 330.7,44.9 332.2,43.7 333.7,42.5 335.2,41.4 336.7,40.2 338.2,39.0 339.6,37.7 341.1,36.5 342.6,35.3 344.0,34.1 345.4,32.8 346.9,31.5 348.3,30.3 349.7,29.0 351.1,27.7 352.5,26.4 353.9,25.1 355.4,23.8 356.8,22.6 358.2,21.3 359.6,20.0 361.0,18.7 362.4,17.4 363.8,16.1 365.2,14.9 366.6,13.6 368.1,12.3 369.5,11.0 370.9,9.7 372.3,8.4 373.7,7.2 375.2,5.9 376.6,4.7 378.1,3.4 379.5,2.2 381.0,1.0 382.4,-0.3 383.8,-1.6 385.2,-2.9 386.6,-4.2 388.0,-5.5" stroke="#1a1a1a" stroke-dasharray="1.6 3.25"/>
<polyline points="55.7,242.0 55.7,240.1 55.7,238.2 55.7,236.4 55.8,234.5 55.8,232.6 55.8,230.7 55.8,228.8 55.8,227.0 55.9,225.1 55.9,223.2 55.9,221.3 55.9,219.4 56.0,217.6 56.0,215.7 56.0,213.8 56.1,211.9 56.1,210.0 56.1,208.2 56.2,206.3 56.2,204.4 56.2,202.5 56.3,200.6 56.3,198.8 56.4,196.9 56.4,195.0 56.5,193.1 56.5,191.2 56.6,189.4 56.6,187.5 56.7,185.6 56.8,183.7 56.8,181.8 56.9,180.0 57.0,178.1 57.1,176.2 57.2,174.3 57.3,172.5 57.4,170.6 57.5,168.7 57.6,166.8 57.8,164.9 57.9,163.1 58.1,161.2 58.3,159.3 58.5,157.5 58.7,155.6 58.9,153.7 59.2,151.9 59.5,150.0 59.8,148.0 60.2,146.2 60.6,144.4 61.2,142.8 62.3,141.2 63.7,139.8 65.1,138.6 66.7,137.6 68.3,136.6 70.1,135.8 71.8,135.1 73.5,134.4 75.3,133.7 77.1,133.1 78.9,132.6 80.8,132.3 82.6,132.1 84.5,131.9 86.4,131.7 88.3,131.6 90.1,131.5 92.0,131.4 93.9,131.3 95.8,131.2 97.7,131.1 99.5,131.0 101.4,131.0 103.3,130.9 105.2,130.9 107.1,130.9 108.9,130.8 110.8,130.8 112.7,130.8 114.6,130.9 116.4,131.0 118.3,131.3 120.2,131.5 122.0,131.8 123.9,132.0 125.8,132.3 127.6,132.6 129.5,133.0 131.3,133.4 133.1,133.8 134.9,134.3 136.8,134.8 138.6,135.3 140.4,135.8 142.2,136.3 144.0,136.8 145.8,137.3 147.6,137.9 149.4,138.4 151.2,139.0 153.0,139.5 154.8,140.1 156.6,140.7 158.3,141.4 160.1,142.0 161.9,142.7 163.6,143.3 165.4,143.9 167.2,144.5 169.0,145.1 170.8,145.7 172.6,146.3 174.4,146.8 176.1,147.4 177.9,147.9 179.8,148.5 181.6,149.0 183.4,149.5 185.2,150.0 187.0,150.5 188.8,151.0 190.6,151.5 192.5,151.9 194.3,152.4 196.1,152.8 197.9,153.2 199.8,153.7 201.6,154.1 203.4,154.5 205.3,154.9 207.1,155.3 209.0,155.6 210.8,156.0 212.7,156.4 214.5,156.7 216.3,157.1 218.2,157.5 220.0,157.9 221.8,158.3 223.7,158.7 225.5,159.1 227.4,159.4 229.2,159.7 231.1,160.0 233.0,160.3 234.8,160.6 236.7,160.8 238.6,161.0 240.4,161.2 242.3,161.3 244.2,161.5 246.0,161.6 247.9,161.7 249.8,161.8 251.7,161.9 253.6,162.0 255.4,162.0 257.3,162.1 259.2,162.2 261.1,162.2 263.0,162.3 264.8,162.3 266.7,162.3 268.6,162.4 270.5,162.4 272.4,162.4 274.2,162.4 276.1,162.4 278.0,162.4 279.9,162.3 281.8,162.3 283.6,162.3 285.5,162.2 287.4,162.2 289.3,162.2 291.2,162.1 293.0,162.1 294.9,162.1 296.8,162.1 298.7,162.1 300.6,162.1 302.4,162.1 304.3,162.1 306.2,162.1 308.1,162.1 310.0,162.1 311.8,162.1 313.7,162.1 315.6,162.1 317.5,162.2 319.4,162.3 321.2,162.4 323.1,162.5 325.0,162.6 326.9,162.7 328.7,162.9 330.6,163.0 332.5,163.2 334.3,163.4 336.2,163.7 338.1,164.0 339.9,164.3 341.8,164.6 343.6,164.9 345.5,165.3 347.3,165.6 349.2,166.0 351.0,166.3 352.9,166.8 354.7,167.2 356.5,167.6 358.4,168.1 360.2,168.6 362.0,169.1 363.7,169.7 365.5,170.3 367.3,170.9 369.1,171.6 370.8,172.3 372.5,173.0 374.3,173.8 376.0,174.6 377.7,175.4 379.4,176.2 381.1,177.0 382.7,177.9 384.4,178.8 386.0,179.7 387.6,180.7 389.3,181.6 390.9,182.6 392.5,183.6 394.0,184.7 395.6,185.7 397.2,186.7 398.7,187.8 400.3,188.9 401.8,190.0 403.3,191.1 404.8,192.2 406.3,193.3 407.8,194.5 409.3,195.6 410.8,196.8 412.3,198.0 413.7,199.1 415.2,200.3 416.6,201.5 418.1,202.7 419.5,203.9 420.9,205.2 422.3,206.4 423.7,207.7 425.1,208.9 426.5,210.2 427.9,211.5" stroke="#1a1a1a" stroke-dasharray="1.6 3.25"/>
<polyline points="55.4,-6.0 55.4,-4.0 55.4,-1.9 55.4,0.1 55.4,2.2 55.4,4.2 55.5,6.2 55.5,8.3 55.5,10.3 55.5,12.4 55.5,14.4 55.5,16.4 55.5,18.5 55.5,20.5 55.5,22.5 55.6,24.6 55.6,26.6 55.6,28.7 55.6,30.7 55.6,32.7 55.6,34.8 55.7,36.8 55.7,38.9 55.7,40.9 55.7,42.9 55.7,45.0 55.7,47.0 55.8,49.1 55.8,51.1 55.8,53.1 55.8,55.2 55.9,57.2 55.9,59.2 55.9,61.3 55.9,63.3 56.0,65.4 56.0,67.4 56.0,69.4 56.1,71.5 56.1,73.5 56.2,75.6 56.2,77.6 56.2,79.6 56.3,81.7 56.3,83.7 56.4,85.8 56.4,87.8 56.5,89.8 56.6,91.9 56.6,93.9 56.7,95.9 56.8,98.0 56.8,100.0 56.9,102.1 57.0,104.1 57.2,106.1 57.3,108.2 57.5,110.2 57.9,112.2 58.2,114.2 58.7,116.2 59.1,118.2 59.5,120.3 60.1,122.3 60.7,124.2 61.7,125.9 63.3,127.3 65.2,127.8 67.2,128.1 69.3,128.0 71.3,127.5 73.2,126.9 75.2,126.4 77.2,125.9 79.2,125.5 81.2,125.1 83.2,124.7 85.2,124.4 87.2,124.2 89.3,124.0 91.3,123.8 93.3,123.7 95.4,123.6 97.4,123.5 99.4,123.4 101.5,123.3 103.5,123.2 105.6,123.2 107.6,123.1 109.6,123.1 111.7,123.0 113.7,123.0 115.7,122.9 117.8,122.9 119.8,122.9 121.9,122.9 123.9,123.0 125.9,123.1 128.0,123.2 130.0,123.3 132.0,123.4 134.1,123.4 136.1,123.5 138.2,123.6 140.2,123.7 142.2,123.7 144.3,123.8 146.3,123.8 148.4,123.9 150.4,124.0 152.4,124.0 154.5,124.1 156.5,124.1 158.5,124.2 160.6,124.2 162.6,124.2 164.7,124.2 166.7,124.3 168.7,124.3 170.8,124.3 172.8,124.3 174.9,124.3 176.9,124.3 178.9,124.3 181.0,124.3 183.0,124.3 185.1,124.3 187.1,124.2 189.1,124.2 191.2,124.2 193.2,124.1 195.2,124.0 197.3,123.8 199.3,123.7 201.3,123.5 203.4,123.3 205.4,123.0 207.4,122.8 209.4,122.5 211.4,122.2 213.4,121.8 215.4,121.3 217.4,120.9 219.4,120.4 221.4,120.0 223.4,119.5 225.4,119.1 227.4,118.6 229.4,118.2 231.4,117.7 233.3,117.2 235.3,116.7 237.3,116.2 239.2,115.6 241.2,115.1 243.1,114.5 245.1,113.8 247.0,113.2 248.9,112.5 250.9,111.8 252.8,111.1 254.7,110.3 256.6,109.6 258.4,108.8 260.3,108.0 262.2,107.2 264.1,106.3 265.9,105.5 267.8,104.7 269.6,103.8 271.5,102.9 273.3,102.0 275.1,101.1 276.9,100.2 278.8,99.3 280.6,98.4 282.4,97.5 284.3,96.6 286.1,95.7 287.9,94.8 289.8,93.9 291.6,93.0 293.4,92.1 295.3,91.2 297.1,90.3 298.9,89.4 300.7,88.5 302.5,87.6 304.3,86.6 306.1,85.7 307.9,84.7 309.7,83.7 311.5,82.7 313.2,81.6 315.0,80.6 316.7,79.5 318.4,78.4 320.2,77.3 321.9,76.2 323.6,75.1 325.3,74.0 327.0,72.9 328.8,71.8 330.5,70.7 332.2,69.7 333.9,68.6 335.7,67.5 337.4,66.4 339.1,65.3 340.9,64.3 342.6,63.2 344.3,62.1 346.1,61.0 347.8,60.0 349.5,58.9 351.3,57.8 353.0,56.8 354.8,55.8 356.5,54.7 358.3,53.7 360.0,52.6 361.8,51.6 363.5,50.5 365.3,49.5 367.0,48.4 368.7,47.3 370.5,46.2 372.2,45.1 373.9,44.0 375.6,42.9 377.3,41.8 379.1,40.8 380.8,39.7 382.5,38.6 384.3,37.6 386.0,36.5 387.8,35.4 389.5,34.4 391.2,33.3 393.0,32.3 394.7,31.2 396.5,30.2 398.2,29.1 400.0,28.1 401.7,27.0 403.4,25.9 405.2,24.9 406.9,23.8 408.7,22.7 410.4,21.7 412.2,20.6 413.9,19.6 415.6,18.5 417.4,17.5 419.1,16.4 420.9,15.4 422.6,14.3 424.4,13.3 426.1,12.2 427.9,11.2" stroke="#1414ff" stroke-dasharray="5 2.85"/>
<polyline points="55.1,242.0 55.1,240.2 55.1,238.3 55.1,236.5 55.1,234.6 55.2,232.8 55.2,230.9 55.2,229.1 55.2,227.2 55.2,225.4 55.2,223.5 55.3,221.7 55.3,219.8 55.3,218.0 55.3,216.1 55.3,214.3 55.4,212.4 55.4,210.6 55.4,208.7 55.4,206.9 55.5,205.0 55.5,203.2 55.5,201.4 55.6,199.5 55.6,197.7 55.6,195.8 55.7,194.0 55.7,192.1 55.7,190.3 55.8,188.4 55.8,186.6 55.9,184.7 55.9,182.9 56.0,181.0 56.0,179.2 56.1,177.3 56.1,175.5 56.2,173.6 56.3,171.8 56.4,170.0 56.5,168.1 56.6,166.3 56.7,164.4 56.8,162.6 56.9,160.7 57.1,158.9 57.3,157.1 57.5,155.2 57.8,153.4 58.0,151.6 58.3,149.7 58.5,147.8 58.7,146.0 59.1,144.2 59.6,142.5 60.5,140.8 61.6,139.3 62.8,138.0 64.2,136.7 65.7,135.6 67.3,134.6 69.0,133.9 70.7,133.3 72.5,132.9 74.4,132.5 76.2,132.0 77.9,131.4 79.7,130.9 81.5,130.6 83.3,130.3 85.1,130.1 87.0,130.0 88.8,129.8 90.7,129.6 92.5,129.5 94.4,129.3 96.2,129.2 98.1,129.1 99.9,129.0 101.8,129.0 103.6,129.0 105.4,128.9 107.3,128.9 109.1,128.9 111.0,128.9 112.8,128.9 114.7,128.9 116.5,129.1 118.4,129.2 120.2,129.4 122.1,129.6 123.9,129.8 125.7,130.0 127.6,130.2 129.4,130.4 131.2,130.7 133.0,131.0 134.9,131.3 136.7,131.6 138.5,132.0 140.3,132.4 142.1,132.7 143.9,133.2 145.7,133.6 147.5,134.0 149.3,134.5 151.1,134.9 152.9,135.3 154.7,135.7 156.5,136.2 158.3,136.6 160.1,137.0 161.9,137.4 163.7,137.8 165.5,138.2 167.3,138.6 169.1,139.0 170.9,139.4 172.7,139.8 174.5,140.1 176.4,140.5 178.2,140.9 180.0,141.2 181.8,141.6 183.6,141.9 185.4,142.3 187.2,142.6 189.1,142.9 190.9,143.2 192.7,143.6 194.5,143.9 196.3,144.2 198.2,144.5 200.0,144.8 201.8,145.0 203.7,145.3 205.5,145.5 207.3,145.8 209.1,146.0 211.0,146.2 212.8,146.5 214.7,146.7 216.5,146.8 218.3,147.0 220.2,147.2 222.0,147.3 223.9,147.4 225.7,147.5 227.6,147.5 229.4,147.6 231.2,147.6 233.1,147.6 234.9,147.7 236.8,147.7 238.6,147.7 240.5,147.7 242.3,147.7 244.2,147.7 246.0,147.6 247.9,147.6 249.7,147.5 251.6,147.5 253.4,147.4 255.3,147.3 257.1,147.2 258.9,147.1 260.8,146.9 262.6,146.7 264.4,146.4 266.3,146.1 268.1,145.8 269.9,145.5 271.8,145.2 273.6,144.9 275.4,144.6 277.2,144.4 279.1,144.1 280.9,143.8 282.7,143.5 284.5,143.2 286.4,143.0 288.2,142.7 290.0,142.4 291.9,142.2 293.7,141.9 295.5,141.7 297.3,141.4 299.2,141.0 301.0,140.7 302.8,140.3 304.6,139.9 306.4,139.6 308.2,139.2 310.0,138.8 311.8,138.5 313.7,138.2 315.5,138.0 317.3,137.7 319.2,137.4 321.0,137.2 322.8,137.0 324.7,136.8 326.5,136.6 328.3,136.4 330.2,136.2 332.0,136.0 333.9,135.8 335.7,135.7 337.5,135.5 339.4,135.4 341.2,135.2 343.1,135.1 344.9,135.1 346.8,135.1 348.6,135.1 350.5,135.1 352.3,135.1 354.2,135.1 356.0,135.1 357.9,135.2 359.7,135.2 361.5,135.2 363.4,135.3 365.2,135.4 367.1,135.7 368.9,135.9 370.7,136.1 372.6,136.3 374.4,136.5 376.3,136.7 378.1,136.9 379.9,137.2 381.7,137.5 383.5,137.8 385.4,138.2 387.2,138.6 389.0,139.0 390.8,139.5 392.6,139.9 394.3,140.4 396.1,140.9 397.9,141.4 399.6,142.0 401.4,142.6 403.1,143.2 404.9,143.8 406.6,144.5 408.3,145.2 410.0,145.9 411.7,146.6 413.4,147.4 415.1,148.1 416.8,148.9 418.4,149.7 420.1,150.5 421.7,151.4 423.4,152.3 425.0,153.2 426.6,154.1 428.2,155.0" stroke="#1414ff" stroke-dasharray="5 2.85"/>
</g>
</g>
<!-- zero line -->
<path d="M54.2,128.5H435.5" stroke="#000" stroke-opacity="0.58" stroke-width="1" fill="none"/>
<!-- frame -->
<path d="M54.2,0.5H436" stroke="#8c8c8c" stroke-width="1" fill="none"/><path d="M54.2,0V236.5" stroke="#999" stroke-width="1" fill="none"/><path d="M53.7,236.5H435.5V0" stroke="#787878" stroke-width="1" fill="none"/>
<path d="M54.00,236.5v-4.4M54.00,0.5v4.4M68.97,236.5v-2.6M68.97,0.5v2.6M83.94,236.5v-2.6M83.94,0.5v2.6M98.91,236.5v-2.6M98.91,0.5v2.6M113.88,236.5v-2.6M113.88,0.5v2.6M128.85,236.5v-4.4M128.85,0.5v4.4M143.82,236.5v-2.6M143.82,0.5v2.6M158.79,236.5v-2.6M158.79,0.5v2.6M173.76,236.5v-2.6M173.76,0.5v2.6M188.73,236.5v-2.6M188.73,0.5v2.6M203.70,236.5v-4.4M203.70,0.5v4.4M218.67,236.5v-2.6M218.67,0.5v2.6M233.64,236.5v-2.6M233.64,0.5v2.6M248.61,236.5v-2.6M248.61,0.5v2.6M263.58,236.5v-2.6M263.58,0.5v2.6M278.55,236.5v-4.4M278.55,0.5v4.4M293.52,236.5v-2.6M293.52,0.5v2.6M308.49,236.5v-2.6M308.49,0.5v2.6M323.46,236.5v-2.6M323.46,0.5v2.6M338.43,236.5v-2.6M338.43,0.5v2.6M353.40,236.5v-4.4M353.40,0.5v4.4M368.37,236.5v-2.6M368.37,0.5v2.6M383.34,236.5v-2.6M383.34,0.5v2.6M398.31,236.5v-2.6M398.31,0.5v2.6M413.28,236.5v-2.6M413.28,0.5v2.6M428.25,236.5v-4.4M428.25,0.5v4.4M54.2,226.83h2.1M435.5,226.83h-2.1M54.2,217.00h2.1M435.5,217.00h-2.1M54.2,207.17h3.5M435.5,207.17h-3.5M54.2,197.33h2.1M435.5,197.33h-2.1M54.2,187.50h2.1M435.5,187.50h-2.1M54.2,177.67h2.1M435.5,177.67h-2.1M54.2,167.83h3.5M435.5,167.83h-3.5M54.2,158.00h2.1M435.5,158.00h-2.1M54.2,148.17h2.1M435.5,148.17h-2.1M54.2,138.33h2.1M435.5,138.33h-2.1M54.2,128.50h3.5M435.5,128.50h-3.5M54.2,118.67h2.1M435.5,118.67h-2.1M54.2,108.83h2.1M435.5,108.83h-2.1M54.2,99.00h2.1M435.5,99.00h-2.1M54.2,89.17h3.5M435.5,89.17h-3.5M54.2,79.33h2.1M435.5,79.33h-2.1M54.2,69.50h2.1M435.5,69.50h-2.1M54.2,59.67h2.1M435.5,59.67h-2.1M54.2,49.83h3.5M435.5,49.83h-3.5M54.2,40.00h2.1M435.5,40.00h-2.1M54.2,30.17h2.1M435.5,30.17h-2.1M54.2,20.33h2.1M435.5,20.33h-2.1M54.2,10.50h3.5M435.5,10.50h-3.5M54.2,0.66h2.1M435.5,0.66h-2.1" stroke="#808080" stroke-width="1" fill="none"/>
<polyline points="54.2,18.0 54.2,19.9 54.2,21.8 54.2,23.7 54.2,25.6 54.2,27.5 54.2,29.3 54.2,31.2 54.2,33.1 54.2,35.0 54.2,36.9 54.2,38.8 54.3,40.7 54.3,42.6 54.3,44.5 54.3,46.4 54.3,48.3 54.3,50.2 54.3,52.0 54.3,53.9 54.3,55.8 54.3,57.7 54.3,59.6 54.3,61.5 54.3,63.4 54.3,65.3 54.3,67.2 54.3,69.1 54.4,71.0 54.4,72.8 54.4,74.7 54.4,76.6 54.4,78.5 54.4,80.4 54.4,82.3 54.5,84.2 54.5,86.1 54.5,88.0 54.5,89.9 54.6,91.8 54.6,93.6 54.6,95.5 54.7,97.4 54.7,99.3 54.7,101.2 54.8,103.1 54.8,105.0 54.9,106.9 54.9,108.8 55.0,110.7 55.1,112.6 55.2,114.5 55.3,116.3 55.5,118.2 55.6,120.1 55.8,122.0 56.2,123.9 56.6,125.7 57.2,127.5 58.2,129.3 59.4,130.5 61.1,131.2 63.1,131.7 65.0,131.8 66.8,131.7 68.7,131.5 70.6,131.2 72.5,131.0 74.4,130.7 76.3,130.5 78.1,130.3 80.0,130.1 81.9,129.9 83.8,129.7 85.7,129.5 87.5,129.3 89.4,129.1 91.3,128.9 93.2,128.7 95.1,128.5 96.9,128.3 98.8,128.1 100.7,127.9 102.6,127.7 104.5,127.5 106.3,127.3 108.2,127.1 110.1,127.0 112.0,126.9 113.9,126.7 115.8,126.6 117.7,126.5 119.6,126.5 121.4,126.5 123.3,126.5 125.2,126.5 127.1,126.6 129.0,126.6 130.9,126.6 132.8,126.8 134.7,126.9 136.5,127.2 138.4,127.5 140.3,127.8 142.2,128.1 144.0,128.3 145.9,128.5 147.8,128.8 149.7,129.0 151.5,129.2 153.4,129.5 155.3,129.8 157.2,130.1 159.0,130.4 160.9,130.7 162.8,131.0 164.6,131.3 166.5,131.5 168.4,131.8 170.3,132.0 172.1,132.2 174.0,132.4 175.9,132.7 177.8,132.9 179.7,133.1 181.5,133.2 183.4,133.4 185.3,133.5 187.2,133.6 189.1,133.8 191.0,133.9 192.9,134.0 194.7,134.1 196.6,134.2 198.5,134.3 200.4,134.3 202.3,134.3 204.2,134.3 206.1,134.3 208.0,134.2 209.9,134.2 211.8,134.1 213.7,134.1 215.5,134.0 217.4,133.9 219.3,133.8 221.2,133.7 223.1,133.6 225.0,133.4 226.9,133.2 228.7,133.0 230.6,132.7 232.5,132.5 234.4,132.3 236.2,132.0 238.1,131.6 239.9,131.3 241.8,130.9 243.6,130.5 245.5,130.1 247.3,129.7 249.2,129.2 251.0,128.8 252.9,128.4 254.7,128.0 256.6,127.7 258.5,127.3 260.3,126.9 262.2,126.5 264.0,126.0 265.8,125.6 267.7,125.1 269.5,124.6 271.3,124.1 273.1,123.5 274.9,122.9 276.7,122.3 278.5,121.7 280.3,121.0 282.0,120.4 283.8,119.9 285.6,119.3 287.4,118.7 289.2,118.1 291.0,117.5 292.8,116.9 294.6,116.3 296.4,115.7 298.2,115.1 300.0,114.5 301.8,113.9 303.6,113.3 305.4,112.7 307.2,112.2 309.0,111.6 310.8,111.0 312.6,110.4 314.4,109.8 316.2,109.2 318.0,108.6 319.8,108.0 321.6,107.4 323.4,106.8 325.1,106.2 326.9,105.6 328.7,105.0 330.5,104.4 332.3,103.8 334.1,103.2 335.9,102.6 337.7,102.0 339.5,101.3 341.3,100.7 343.1,100.1 344.8,99.5 346.6,98.9 348.4,98.3 350.2,97.8 352.0,97.2 353.8,96.6 355.6,96.0 357.5,95.5 359.3,94.9 361.1,94.3 362.9,93.8 364.7,93.2 366.5,92.7 368.3,92.1 370.1,91.6 371.9,91.1 373.8,90.6 375.6,90.1 377.4,89.7 379.3,89.3 381.1,88.8 382.9,88.4 384.8,87.9 386.6,87.5 388.5,87.1 390.3,86.7 392.2,86.3 394.1,85.9 395.9,85.6 397.8,85.3 399.7,85.0 401.5,84.8 403.4,84.5 405.3,84.3 407.1,84.1 409.0,83.9 410.9,83.7 412.8,83.5 414.7,83.3 416.5,83.2 418.4,83.0 420.3,82.9 422.2,82.7 424.1,82.6 426.0,82.6 427.9,82.5" stroke="#2a2a2a" stroke-width="0.9" fill="none"/>
<!-- legend -->
<g fill="none" stroke-width="0.9">
<path d="M70,10.5H144.6" stroke="#1414ff" stroke-dasharray="5 2.85" stroke-width="1"/>
<path d="M70.2,30.5H144.6" stroke="#222" stroke-dasharray="1.7 3.15" stroke-width="1"/>
<path d="M70.2,49.5H144.6" stroke="#333" stroke-dasharray="1.5 3 5 3.1" stroke-width="1"/>
<path d="M70,69.5H144.4" stroke="#6a6a6a" stroke-width="1"/>
</g>
<g font-size="10.5">
<text x="159.9" y="14.8" font-size="11" style="fill:#1414ff">1</text>
<text x="159.9" y="33.9" font-size="11">2</text>
<text x="159.9" y="53.7" font-size="11">3</text>
<g font-style="italic" font-weight="normal" style="font-weight:normal">
<text transform="translate(164.9,14.8) scale(1.42,1.05)" style="fill:#1414ff;font-weight:normal">σ</text>
<text transform="translate(164.9,33.9) scale(1.42,1.05)" style="font-weight:normal">σ</text>
<text transform="translate(164.9,53.7) scale(1.42,1.05)" style="font-weight:normal">σ</text>
</g>
<text x="161.2" y="72.9">Best fit</text>
</g>
<!-- y tick labels -->
<g font-size="15" text-anchor="end">
<text x="51.6" y="16.0">0.6</text>
<text x="51.6" y="55.2">0.4</text>
<text x="51.6" y="94.4">0.2</text>
<text x="51.6" y="133.5">0.0</text>
<text x="51.6" y="172.8">0.2</text><rect x="23" y="168.1" width="7.4" height="1.45" fill="#000"/>
<text x="51.6" y="212.0">0.4</text><rect x="23" y="207.3" width="7.4" height="1.45" fill="#000"/>
</g>
<!-- x tick labels -->
<g font-size="15" text-anchor="middle">
<text x="54" y="253">0</text>
<text x="128.85" y="253">1</text>
<text x="203.7" y="253">2</text>
<text x="278.5" y="253">3</text>
<text x="353.3" y="253">4</text>
<text x="428" y="253">5</text>
</g>
<text x="245" y="275" font-size="15" text-anchor="middle">z</text>
<text transform="translate(13.5,118.3) rotate(-90)" font-size="15" text-anchor="middle" letter-spacing="0.3"><tspan font-style="italic">τ</tspan>(z)</text>
</svg>
</body></html>
